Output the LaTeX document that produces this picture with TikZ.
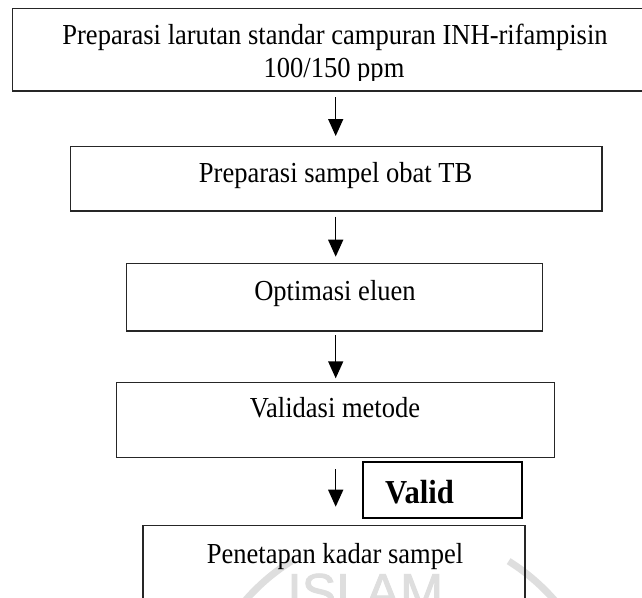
\documentclass[tikz,border=0pt]{standalone}
\usepackage{fontspec}
\setmainfont[FakeStretch=0.915]{Liberation Serif}
\newfontfamily\wmfont[FakeBold=1.5]{Liberation Sans}
\usetikzlibrary{arrows.meta,calc}
\begin{document}
\begin{tikzpicture}[x=1pt,y=-1pt,
  box/.style={draw=black!85,line width=1.3pt,fill=none,inner sep=0pt,outer sep=0pt},
  txt/.style={inner sep=0pt,outer sep=0pt,anchor=base,font=\fontsize{29}{33}\selectfont},
  arr/.style={draw=black,line width=1.5pt,-{Triangle[length=17pt,width=15pt]}},
  wm/.style={color=black!13}]
\useasboundingbox (0,0) rectangle (642,597);
\fill[white] (0,0) rectangle (642,597);
% watermark
\coordinate (wc) at (400,735);
\draw[wm,line width=7pt] ($(wc)+(-142:205)$) arc[start angle=142,end angle=122,radius=205pt];
\draw[wm,line width=7pt] ($(wc)+(-58:205)$) arc[start angle=58,end angle=38,radius=205pt];
\node[wm,inner sep=0pt,anchor=base west,font=\wmfont\fontsize{52}{52}\selectfont] (wmtext) at (287,610) {ISLAM};
% boxes
\coordinate (ax) at (335.7,0);
\node[box,minimum width=647.3pt,minimum height=82.7pt] (b1) at (336.35,49.65) {};
\node[box,minimum width=531.3pt,minimum height=64.3pt] (b2) at (336.35,178.85) {};
\node[box,minimum width=416pt,minimum height=67.3pt] (b3) at (334.3,297.35) {};
\node[box,minimum width=437.6pt,minimum height=75pt] (b4) at (335.5,420.2) {};
\node[box,minimum width=382pt,minimum height=94.3pt] (b5) at (334,572.85) {};
\node[box,line width=2pt,draw=black,minimum width=158.4pt,minimum height=56pt] (bv) at (442.5,490) {};
% texts
\node[txt] (t1a) at (335,44) {Preparasi larutan standar campuran INH-rifampisin};
\begin{scope}
\clip (20,50) rectangle (630,80.5);
\node[txt] (t1b) at (334,77.3) {100/150 ppm};
\end{scope}
\node[txt] (t2) at (335.6,182.7) {Preparasi sampel obat TB};
\node[txt] (t3) at (335,300) {Optimasi eluen};
\node[txt] (t4) at (335,417.3) {Validasi metode};
\node[txt] (t5) at (335,563) {Penetapan kadar sampel};
\node[inner sep=0pt,anchor=base west,font=\bfseries\fontsize{33.5}{36}\selectfont] (tv) at (385,503.3) {Valid};
% arrows
\draw[arr,shorten <=6pt,shorten >=10.7pt] (b1.south -| ax) -- (b2.north -| ax);
\draw[arr,shorten <=5.7pt,shorten >=7pt] (b2.south -| ax) -- (b3.north -| ax);
\draw[arr,shorten <=4pt,shorten >=4.4pt] (b3.south -| ax) -- (b4.north -| ax);
\draw[arr,shorten <=11.6pt,shorten >=19pt] (b4.south -| ax) -- (b5.north -| ax);
\end{tikzpicture}
\end{document}
